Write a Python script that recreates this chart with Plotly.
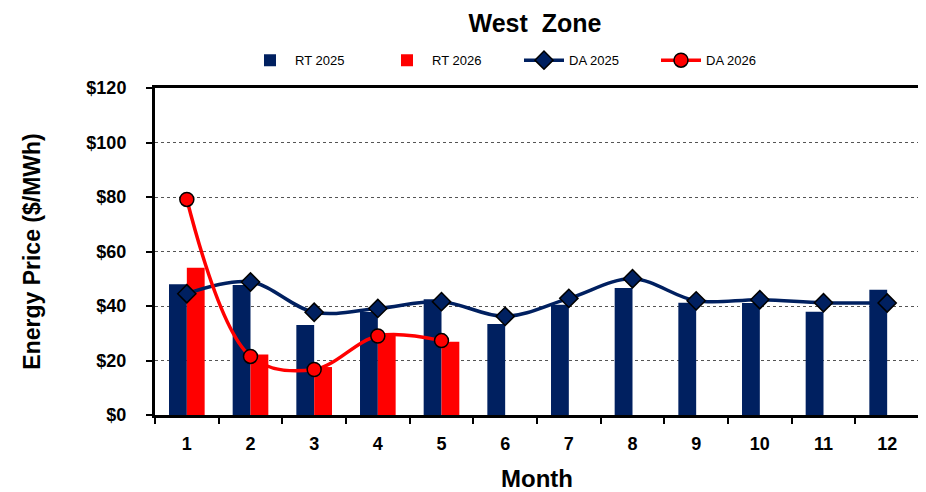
import plotly.graph_objects as go

months = [str(m) for m in range(1, 13)]
rt_2025 = [48.0, 47.7, 33.0, 37.8, 42.5, 33.4, 40.5, 46.6, 41.2, 41.1, 37.9, 46.0]
rt_2026 = [54.0, 22.2, 17.6, 29.5, 26.9]
da_2025 = [44.5, 48.8, 37.7, 39.1, 41.6, 36.2, 42.8, 50.0, 41.9, 42.3, 41.2, 41.1]
da_2026 = [79.1, 21.5, 16.7, 29.0, 27.3]
y_ticks = [0, 20, 40, 60, 80, 100, 120]

NAVY = "#002060"
RED = "#FF0000"
FONT = "Arial, Liberation Sans, sans-serif"

fig = go.Figure()
fig.add_trace(go.Bar(x=months, y=rt_2025, name="RT 2025", marker=dict(color=NAVY, line=dict(width=0))))
fig.add_trace(go.Bar(x=months[:len(rt_2026)], y=rt_2026, name="RT 2026", marker=dict(color=RED, line=dict(width=0))))
fig.add_trace(go.Scatter(x=months, y=da_2025, name="DA 2025", mode="lines+markers",
                         line=dict(color=NAVY, width=3.5, shape="spline", smoothing=1),
                         marker=dict(symbol="diamond", size=14, color=NAVY, line=dict(color="black", width=1.5))))
fig.add_trace(go.Scatter(x=months[:len(da_2026)], y=da_2026, name="DA 2026", mode="lines+markers",
                         line=dict(color=RED, width=3.5, shape="spline", smoothing=1),
                         marker=dict(symbol="circle", size=14, color=RED, line=dict(color="black", width=1.5))))

# page body has an 8px default margin, so the figure is 8px smaller and offsets shift by 8
fig.update_layout(
    width=918, height=484,
    margin=dict(l=147, r=7, t=80, b=77, autoexpand=False),
    paper_bgcolor="white", plot_bgcolor="white",
    font=dict(family=FONT, color="black"),
    barmode="group", bargap=0.44, bargroupgap=0,
    title=dict(text="<b>West\u00a0\u00a0Zone</b>", x=527 / 918, xanchor="center", y=1 - 15 / 484, yanchor="middle",
               font=dict(size=25, family=FONT, color="black")),
    legend=dict(orientation="h", x=0.1178, xanchor="left", y=1.085, yanchor="middle",
                font=dict(size=13, family=FONT), entrywidth=82, entrywidthmode="pixels",
                traceorder="normal", itemwidth=40, bgcolor="rgba(0,0,0,0)"),
    showlegend=True,
)
fig.update_xaxes(
    type="category", range=[-0.5, 11.5], tickson="boundaries", ticks="outside", ticklen=6, tickwidth=2,
    tickcolor="black", ticklabelstandoff=10,
    showline=True, linewidth=3, linecolor="black", mirror=True,
    tickfont=dict(size=18, family=FONT, color="black", weight="bold"),
    title=dict(text="<b>Month</b>", font=dict(size=24, family=FONT), standoff=18),
    showgrid=False,
)
fig.update_yaxes(
    range=[0, 120], tickvals=y_ticks, ticktext=[f"${v}" for v in y_ticks],
    ticks="outside", ticklen=6, tickwidth=2, tickcolor="black", ticklabelstandoff=16,
    showline=True, linewidth=3, linecolor="black", mirror=True,
    tickfont=dict(size=18, family=FONT, color="black", weight="bold"),
    showgrid=True, gridcolor="#555555", griddash="dot", gridwidth=1,
    title=dict(text="<b>Energy Price ($/MWh)</b>", font=dict(size=23, family=FONT), standoff=40),
    zeroline=False,
)
fig.write_html("out.html")
